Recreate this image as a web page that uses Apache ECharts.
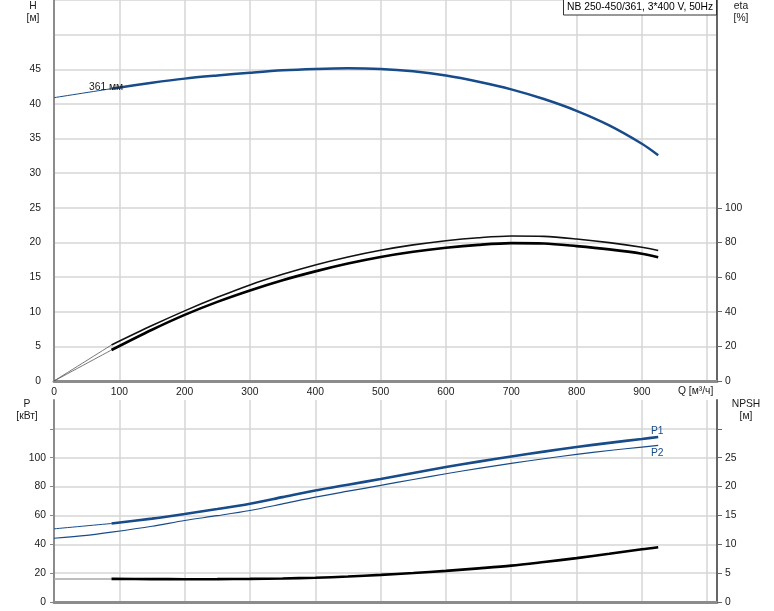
<!DOCTYPE html>
<html>
<head>
<meta charset="utf-8">
<script src="https://cdn.jsdelivr.net/npm/echarts@6/dist/echarts.min.js"></script>
<style>html,body{margin:0;padding:0;background:#fff}#c{width:774px;height:611px}</style>
</head>
<body>
<div id="c"></div>
<script>
// ---- data ----
const qExt = [0, 88];
const qMain = [88, 150, 200, 250, 300, 350, 400, 450, 500, 550, 600, 650, 700, 750, 800, 850, 900, 925];
const hExt = [40.9, 42.2];
const hMain = [42.2, 43.05, 43.65, 44.1, 44.5, 44.85, 45.05, 45.15, 45.05, 44.7, 44.1, 43.2, 42.1, 40.7, 39.0, 36.9, 34.25, 32.6];
const eta1Ext = [0, 20.8];
const eta1Main = [20.8, 32.0, 40.5, 48.3, 55.5, 61.6, 67.0, 71.6, 75.5, 78.6, 81.0, 82.7, 83.7, 83.5, 82.0, 79.9, 77.2, 75.4];
const eta2Ext = [0, 17.9];
const eta2Main = [17.9, 29.6, 38.2, 45.7, 52.3, 58.2, 63.3, 67.8, 71.6, 74.6, 76.9, 78.6, 79.6, 79.4, 77.9, 76.0, 73.5, 71.4];
const p1Ext = [50.7, 54.4];
const p1Main = [54.4, 57.8, 61.0, 64.4, 68.1, 72.7, 77.3, 81.3, 85.2, 89.4, 93.5, 97.3, 100.9, 104.2, 107.4, 110.3, 113.0, 114.4];
const qP2 = [0, 50, 88, 150, 200, 250, 300, 350, 400, 450, 500, 550, 600, 650, 700, 750, 800, 850, 900, 925];
const p2 = [44.2, 46.2, 48.4, 52.5, 56.5, 59.8, 63.4, 68.0, 72.7, 76.8, 80.8, 84.9, 88.9, 92.6, 96.1, 99.3, 102.3, 105.0, 107.4, 108.5];
const npshExt = [4.0, 4.0];
const npshMain = [4.0, 3.97, 3.95, 3.96, 4.0, 4.08, 4.2, 4.42, 4.7, 5.03, 5.4, 5.83, 6.3, 6.93, 7.6, 8.35, 9.15, 9.5];
const qTickLabels = [0, 100, 200, 300, 400, 500, 600, 700, 800, 900];
const hTickLabels = [0, 5, 10, 15, 20, 25, 30, 35, 40, 45];
const etaTickLabels = [0, 20, 40, 60, 80, 100];
const pTickLabels = [0, 20, 40, 60, 80, 100];
const pTicks = [0, 20, 40, 60, 80, 100, 120];
const npshTickLabels = [0, 5, 10, 15, 20, 25];
const npshTicks = [0, 5, 10, 15, 20, 25, 30];
const titleText = 'NB 250-450/361, 3*400 V, 50Hz';
const curveLabel = '361 мм';

const pairs = (xs, ys) => xs.map((x, i) => [x, ys[i]]);
const BLUE = '#174b8a';
const GRID = '#d6d6d6';
const FONT = 'Liberation Sans, Arial, sans-serif';
const FS = 10.3;
const F = FS + 'px ' + FONT;
const TXT = '#1a1a1a';

const chart = echarts.init(document.getElementById('c'), null, {renderer: 'canvas'});

function xAx(gi, showLabels) {
  return {
    type: 'value', gridIndex: gi, min: 0, max: 1015, interval: 100,
    axisLine: {show: true, onZero: false, lineStyle: {color: '#8c8c8c', width: 3}},
    axisTick: {show: false},
    axisLabel: showLabels ? {show: true, customValues: qTickLabels, margin: 6, fontSize: FS, color: TXT, fontFamily: FONT} : {show: false},
    splitLine: {show: true, lineStyle: {color: GRID, width: 1.5}}
  };
}
function line(name, xi, yi, data, color, width, z) {
  return {
    name, type: 'line', xAxisIndex: xi, yAxisIndex: yi, data,
    smooth: 0.3, showSymbol: false, symbol: 'none', silent: true, z: z || 2,
    lineStyle: {color, width}
  };
}

chart.setOption({
  animation: false,
  backgroundColor: '#fff',
  grid: [
    {left: 54, right: 57, top: 0, height: 381},
    {left: 54, right: 57, top: 400, height: 202}
  ],
  xAxis: [xAx(0, true), xAx(1, false)],
  yAxis: [
    {type: 'value', gridIndex: 0, position: 'left', min: 0, max: 55, interval: 5,
     axisLine: {show: true, lineStyle: {color: '#8c8c8c', width: 2}},
     axisTick: {show: false},
     axisLabel: {customValues: hTickLabels, margin: 13, fontSize: FS, color: TXT, fontFamily: FONT},
     splitLine: {show: true, lineStyle: {color: GRID, width: 1.5}}},
    {type: 'value', gridIndex: 0, position: 'right', min: 0, max: 220, interval: 20,
     axisLine: {show: true, lineStyle: {color: '#666', width: 2}},
     axisTick: {show: true, customValues: etaTickLabels, length: 5, lineStyle: {color: '#666'}},
     axisLabel: {customValues: etaTickLabels, margin: 8, fontSize: FS, color: TXT, fontFamily: FONT},
     splitLine: {show: false}},
    {type: 'value', gridIndex: 1, position: 'left', min: 0, max: 140, interval: 20,
     axisLine: {show: true, lineStyle: {color: '#8c8c8c', width: 2}},
     axisTick: {show: true, customValues: pTicks, length: 4, lineStyle: {color: '#888'}},
     axisLabel: {customValues: pTickLabels, margin: 8, fontSize: FS, color: TXT, fontFamily: FONT},
     splitLine: {show: true, lineStyle: {color: GRID, width: 1.5}}},
    {type: 'value', gridIndex: 1, position: 'right', min: 0, max: 35, interval: 5,
     axisLine: {show: true, lineStyle: {color: '#666', width: 2}},
     axisTick: {show: true, customValues: npshTicks, length: 5, lineStyle: {color: '#666'}},
     axisLabel: {customValues: npshTickLabels, margin: 8, fontSize: FS, color: TXT, fontFamily: FONT},
     splitLine: {show: false}}
  ],
  series: [
    line('H ext', 0, 0, pairs(qExt, hExt), BLUE, 1),
    line('H', 0, 0, pairs(qMain, hMain), BLUE, 2.5, 3),
    line('eta1 ext', 0, 1, pairs(qExt, eta1Ext), '#555', 0.8),
    line('eta1', 0, 1, pairs(qMain, eta1Main), '#111', 1.6, 3),
    line('eta2 ext', 0, 1, pairs(qExt, eta2Ext), '#555', 0.8),
    line('eta2', 0, 1, pairs(qMain, eta2Main), '#000', 2.6, 3),
    line('P1 ext', 1, 2, pairs(qExt, p1Ext), BLUE, 1),
    line('P1', 1, 2, pairs(qMain, p1Main), BLUE, 2.6, 3),
    line('P2', 1, 2, pairs(qP2, p2), BLUE, 1.2),
    line('NPSH ext', 1, 3, pairs(qExt, npshExt), '#a8a8a8', 1.5),
    line('NPSH', 1, 3, pairs(qMain, npshMain), '#000', 2.6, 3)
  ],
  graphic: [
    {type: 'text', x: 33, y: 0, z: 10, style: {text: 'H\n[м]', font: F, fill: TXT, align: 'center', lineHeight: 12}},
    {type: 'text', x: 741, y: 0, z: 10, style: {text: 'eta\n[%]', font: F, fill: TXT, align: 'center', lineHeight: 12}},
    {type: 'text', x: 27, y: 398, z: 10, style: {text: 'P\n[кВт]', font: F, fill: TXT, align: 'center', lineHeight: 12}},
    {type: 'text', x: 746, y: 398, z: 10, style: {text: 'NPSH\n[м]', font: F, fill: TXT, align: 'center', lineHeight: 12}},
    {type: 'text', x: 678, y: 386, z: 10, style: {text: 'Q [м³/ч]', font: F, fill: TXT}},
    {type: 'text', x: 89, y: 82, z: 10, style: {text: curveLabel, font: F, fill: TXT}},
    {type: 'text', x: 651, y: 426, z: 10, style: {text: 'P1', font: F, fill: BLUE}},
    {type: 'text', x: 651, y: 448, z: 10, style: {text: 'P2', font: F, fill: BLUE}},
    {type: 'rect', shape: {x: 563.5, y: -1, width: 153, height: 16}, z: 10, style: {fill: '#fff', stroke: '#333', lineWidth: 1}},
    {type: 'text', x: 567, y: 2, z: 11, style: {text: titleText, font: F, fill: '#000'}}
  ]
});
</script>
</body>
</html>
